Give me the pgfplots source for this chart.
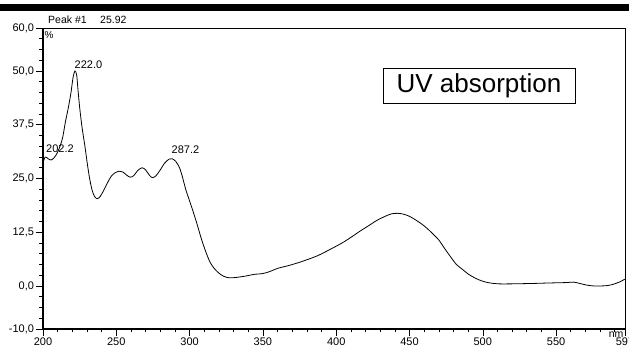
\documentclass[border=0pt]{standalone}
\usepackage{pgfplots}
\pgfplotsset{compat=1.18}
\usepackage{fontspec}
\setmainfont{Liberation Sans}
\begin{document}
\begin{tikzpicture}
\begin{axis}[
  at={(0pt,0pt)}, anchor=south west,
  scale only axis, width=582pt, height=301pt,
  xmin=200, xmax=597, ymin=-10, ymax=60,
  xtick={200,250,300,350,400,450,500,550,597},
  xticklabels={200,250,300,350,400,450,500,550,597},
  minor xtick={210,220,230,240,260,270,280,290,310,320,330,340,360,370,380,390,410,420,430,440,460,470,480,490,510,520,530,540,560,570,580,590},
  ytick={-10,0,12.5,25,37.5,50,60},
  yticklabels={{-10,0},{0,0},{12,5},{25,0},{37,5},{50,0},{60,0}},
  minor ytick={-7.5,-5,-2.5,2.5,5,7.5,10,15,17.5,20,22.5,27.5,30,32.5,35,40,42.5,45,47.5,52.5,55,57.5},
  tick align=outside, xtick pos=bottom, ytick pos=left,
  major tick length=7pt, minor tick length=3.5pt,
  tick style={black, line width=0.6pt},
  axis line style={black, line width=0.6pt},
  ticklabel style={font=\fontsize{11}{13}\selectfont},
  yticklabel style={xshift=1.5pt},
  xticklabel style={yshift=1.5pt},
  /pgf/number format/assume math mode=true,
  clip=false,
]
\addplot[black, line width=0.8pt, smooth, tension=0.5] coordinates {
(200,28.6) (201.5,30.0) (203.5,29.6) (205.5,29.3) (207.5,29.8) (209.5,30.8)
(211.5,32.4) (213.4,34.5) (215.2,38.0) (217.3,41.5) (219.1,45.0) (220.5,48.5)
(221.8,50.0) (223.0,49.0) (223.9,45.5) (225.2,40.9) (226.8,36.5) (228.6,32.5)
(230.2,28.5) (231.8,25.0) (233.5,22.3) (235.2,20.8) (237.0,20.3) (239,20.8)
(241.5,22.3) (244,24.0) (246.5,25.5) (249,26.3) (252,26.7) (254.5,26.5)
(257,25.8) (259.5,25.3) (262,25.7) (264.5,26.8) (267.5,27.5) (270,27.0)
(272.5,25.8) (274.5,25.2) (277,25.6) (280,27.0) (283,28.6) (286,29.5)
(288,29.6) (290.5,29.0) (293,27.6) (295,25.5) (297.5,22.3) (300,19.8)
(302.5,17.2) (305,14.5) (308,11.0) (311,8.0) (314,5.5) (317,4.0) (320,3.0)
(323,2.3) (327,1.9) (332,2.0) (338,2.3) (344,2.7) (350,2.9) (355,3.4)
(360,4.1) (367,4.7) (373,5.3) (380,6.1) (387,7.0) (393,8.0) (398,8.9)
(404,10.0) (410,11.3) (416,12.7) (422,14.0) (428,15.3) (434,16.3) (438,16.8)
(442,16.9) (446,16.7) (450,16.2) (454,15.4) (458,14.5) (462,13.4) (466,12.1)
(470,10.7) (474,8.7) (478,6.8) (482,5.0) (486,3.9) (490,2.8) (495,1.8)
(500,1.1) (505,0.7) (511,0.5) (520,0.5) (535,0.6) (545,0.7) (557,0.8)
(562,0.9) (566,0.6) (571,0.2) (576,0.0) (580,0.0) (585,0.1) (589,0.4)
(593,0.9) (597,1.6)
};
\draw[black, line width=1pt] (rel axis cs:0,0) -- (rel axis cs:0,1);
\draw[black, line width=1pt] (rel axis cs:0,0) -- (rel axis cs:1,0);
\node[font=\fontsize{11}{13}\selectfont] at (axis cs:211.6,31.9) {202.2};
\node[font=\fontsize{11}{13}\selectfont] at (axis cs:231,51.4) {222.0};
\node[font=\fontsize{11}{13}\selectfont] at (axis cs:297.2,31.6) {287.2};
\node[font=\fontsize{10}{11}\selectfont] at (axis cs:204.1,58.4) {\%};
\node[font=\fontsize{10.5}{12}\selectfont, anchor=west, inner sep=0pt] at (axis cs:203.4,61.9) {Peak \#1};
\node[font=\fontsize{10.5}{12}\selectfont, anchor=west, inner sep=0pt] at (axis cs:238.9,61.9) {25.92};
\node[draw=black, line width=0.8pt, fill=white, minimum width=192pt, minimum height=35pt, inner sep=0pt, font=\fontsize{26}{28}\selectfont] at (axis cs:497.4,46.5) {UV absorption};
\node[font=\fontsize{10.5}{12}\selectfont, anchor=east, inner sep=0pt] at (axis cs:596,-11.4) {nm};
\end{axis}
\fill[black] (-43pt,318pt) rectangle (586pt,325pt);
\pgfresetboundingbox
\useasboundingbox (-43pt,-18pt) rectangle (586pt,329pt);
\end{tikzpicture}
\end{document}
